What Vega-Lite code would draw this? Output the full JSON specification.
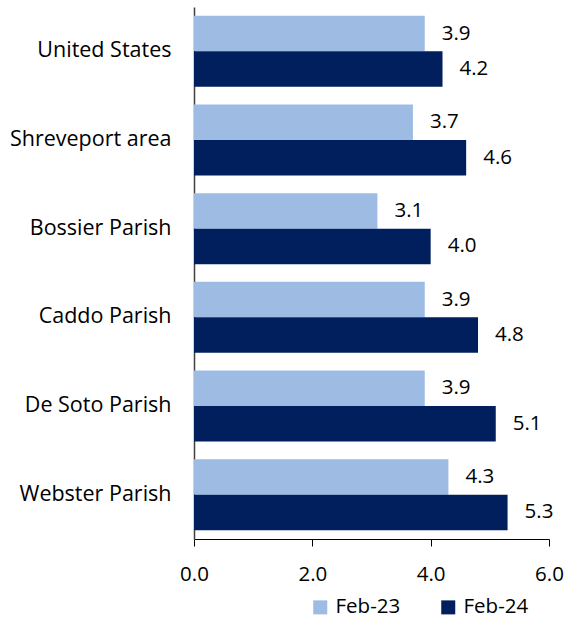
{
  "$schema": "https://vega.github.io/schema/vega-lite/v6.json",
  "autosize": "none",
  "width": 355,
  "height": 532,
  "padding": {"left": 194, "top": 7, "right": 17, "bottom": 80},
  "background": "white",
  "config": {"view": {"stroke": null}, "font": "Open Sans"},
  "data": {"values": [
    {"area": "United States", "period": "Feb-23", "rate": 3.9},
    {"area": "United States", "period": "Feb-24", "rate": 4.2},
    {"area": "Shreveport area", "period": "Feb-23", "rate": 3.7},
    {"area": "Shreveport area", "period": "Feb-24", "rate": 4.6},
    {"area": "Bossier Parish", "period": "Feb-23", "rate": 3.1},
    {"area": "Bossier Parish", "period": "Feb-24", "rate": 4.0},
    {"area": "Caddo Parish", "period": "Feb-23", "rate": 3.9},
    {"area": "Caddo Parish", "period": "Feb-24", "rate": 4.8},
    {"area": "De Soto Parish", "period": "Feb-23", "rate": 3.9},
    {"area": "De Soto Parish", "period": "Feb-24", "rate": 5.1},
    {"area": "Webster Parish", "period": "Feb-23", "rate": 4.3},
    {"area": "Webster Parish", "period": "Feb-24", "rate": 5.3}
  ]},
  "encoding": {
    "y": {
      "field": "area", "type": "nominal", "sort": null,
      "scale": {"paddingInner": 0.2, "paddingOuter": 0.1},
      "axis": {"title": null, "ticks": false, "labelFontSize": 21.5, "labelColor": "#000000", "labelPadding": 23, "domainColor": "#404040", "domainWidth": 1.5, "labelFont": "Open Sans", "labelLimit": 200}
    },
    "yOffset": {"field": "period", "type": "nominal", "sort": ["Feb-23", "Feb-24"], "scale": {"paddingInner": 0, "paddingOuter": 0}},
    "x": {
      "field": "rate", "type": "quantitative",
      "scale": {"domain": [0, 6], "nice": false},
      "axis": {"title": null, "values": [0, 2, 4, 6], "format": ".1f", "grid": false, "labelFontSize": 20.5, "labelColor": "#000000", "tickColor": "#000000", "tickSize": 7, "domainColor": "#000000", "labelPadding": 18, "labelFont": "Open Sans", "labelFlush": false}
    }
  },
  "layer": [
    {
      "mark": {"type": "bar"},
      "encoding": {
        "color": {
          "field": "period", "type": "nominal",
          "scale": {"domain": ["Feb-23", "Feb-24"], "range": ["#9DBBE3", "#001F5C"]},
          "legend": {"title": null, "orient": "none", "direction": "horizontal", "legendX": 116, "legendY": 590, "symbolType": "square", "symbolSize": 196, "symbolStrokeWidth": 0, "labelFontSize": 20.5, "labelColor": "#000000", "columnPadding": 37, "labelOffset": 5, "labelFont": "Open Sans"}
        }
      }
    },
    {
      "mark": {"type": "text", "align": "left", "baseline": "middle", "dx": 17, "fontSize": 20.5, "color": "#000000", "font": "Open Sans"},
      "encoding": {"text": {"field": "rate", "type": "quantitative", "format": ".1f"}}
    }
  ]
}
